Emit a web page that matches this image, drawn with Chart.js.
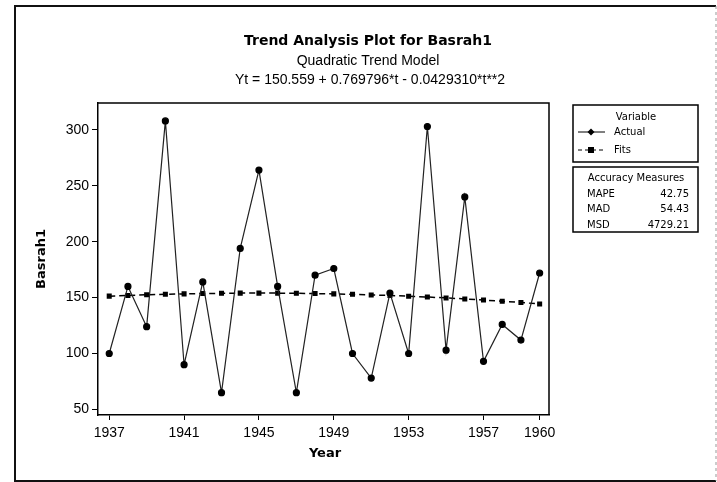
<!DOCTYPE html>
<html>
<head>
<meta charset="utf-8">
<script src="https://cdn.jsdelivr.net/npm/chart.js@4.4.0/dist/chart.umd.min.js"></script>
<style>
  html, body { margin: 0; padding: 0; background: #fff; }
  #wrap { width: 717px; height: 482px; position: relative; }
</style>
</head>
<body>
<div id="wrap"><canvas id="trend-canvas" width="717" height="482"></canvas></div>
<script>
// values
const years = [1937, 1938, 1939, 1940, 1941, 1942, 1943, 1944, 1945, 1946, 1947, 1948,
  1949, 1950, 1951, 1952, 1953, 1954, 1955, 1956, 1957, 1958, 1959, 1960];
const actual = [100, 160, 124, 308, 90, 164, 65, 194, 264, 160, 65, 170,
  176, 100, 78, 154, 100, 303, 103, 240, 93, 126, 112, 172];
const fits = [151.3, 151.9, 152.5, 153.0, 153.3, 153.6, 153.8, 154.0, 154.0, 154.0, 153.8, 153.6,
  153.3, 152.9, 152.4, 151.9, 151.2, 150.5, 149.7, 148.8, 147.8, 146.7, 145.6, 144.3];
const xTicks = [1937, 1941, 1945, 1949, 1953, 1957, 1960];
const yTicks = [50, 100, 150, 200, 250, 300];
const accuracyNames = ["MAPE", "MAD", "MSD"];
const accuracyValues = ["42.75", "54.43", "4729.21"];

const canvas = document.getElementById('trend-canvas');

// titles, frame and the two legend boxes
const decorations = {
  id: 'decorations',
  afterDraw(chart) {
    const ctx = chart.ctx;
    const a = chart.chartArea;
    ctx.save();

    // outer border
    ctx.strokeStyle = '#111';
    ctx.lineWidth = 2;
    ctx.beginPath();
    ctx.moveTo(716, 6); ctx.lineTo(15, 6); ctx.lineTo(15, 481); ctx.lineTo(716, 481);
    ctx.stroke();
    ctx.strokeStyle = '#999';
    ctx.lineWidth = 1;
    ctx.setLineDash([3, 3]);
    ctx.beginPath(); ctx.moveTo(716, 6); ctx.lineTo(716, 481); ctx.stroke();
    ctx.setLineDash([]);

    // top and right of plot frame
    ctx.strokeStyle = '#000';
    ctx.lineWidth = 1.5;
    ctx.beginPath();
    ctx.moveTo(a.left, a.top); ctx.lineTo(a.right, a.top); ctx.lineTo(a.right, a.bottom);
    ctx.stroke();

    // titles
    ctx.fillStyle = '#000';
    ctx.textAlign = 'center';
    ctx.textBaseline = 'middle';
    ctx.font = 'bold 14px "DejaVu Sans"';
    ctx.fillText('Trend Analysis Plot for Basrah1', 368, 41);
    ctx.font = '14px "Liberation Sans"';
    ctx.fillText('Quadratic Trend Model', 368, 61);
    ctx.fillText('Yt = 150.559 + 0.769796*t - 0.0429310*t**2', 370, 80);

    // axis titles
    ctx.font = 'bold 13px "DejaVu Sans"';
    ctx.fillText('Year', 325, 454);
    ctx.save();
    ctx.translate(42, 259);
    ctx.rotate(-Math.PI / 2);
    ctx.fillText('Basrah1', 0, 0);
    ctx.restore();

    // legend box
    ctx.lineWidth = 1.5;
    ctx.strokeRect(573, 105, 125, 57);
    ctx.font = '10px "DejaVu Sans"';
    ctx.fillText('Variable', 636, 117);
    ctx.textAlign = 'left';
    ctx.lineWidth = 1;
    ctx.beginPath(); ctx.moveTo(578, 132); ctx.lineTo(605, 132); ctx.stroke();
    ctx.beginPath();
    ctx.moveTo(591, 128.5); ctx.lineTo(594.5, 132); ctx.lineTo(591, 135.5); ctx.lineTo(587.5, 132);
    ctx.closePath(); ctx.fill();
    ctx.fillText('Actual', 614, 132);
    ctx.setLineDash([4, 3]);
    ctx.beginPath(); ctx.moveTo(578, 150); ctx.lineTo(605, 150); ctx.stroke();
    ctx.setLineDash([]);
    ctx.fillRect(588, 147, 6, 6);
    ctx.fillText('Fits', 614, 150);

    // accuracy box
    ctx.lineWidth = 1.5;
    ctx.strokeRect(573, 167, 125, 65);
    ctx.textAlign = 'center';
    ctx.fillText('Accuracy Measures', 636, 178);
    for (let i = 0; i < accuracyNames.length; i++) {
      const y = 194 + i * 15.5;
      ctx.textAlign = 'left';
      ctx.fillText(accuracyNames[i], 587, y);
      ctx.textAlign = 'right';
      ctx.fillText(accuracyValues[i], 689, y);
    }
    ctx.restore();
  }
};

const tickFont = { family: '"Liberation Sans"', size: 14 };

window.trendChart = new Chart(canvas, {
  type: 'line',
  data: {
    datasets: [{
      label: 'Actual',
      data: years.map((y, i) => ({ x: y, y: actual[i] })),
      borderColor: '#222',
      borderWidth: 1.2,
      pointBackgroundColor: '#000',
      pointBorderColor: '#000',
      pointRadius: 3,
      pointStyle: 'circle',
      tension: 0,
    }, {
      label: 'Fits',
      data: years.map((y, i) => ({ x: y, y: fits[i] })),
      borderColor: '#000',
      borderWidth: 1.5,
      borderDash: [6, 4],
      pointBackgroundColor: '#000',
      pointBorderColor: '#000',
      pointRadius: 2.5,
      pointStyle: 'rect',
      tension: 0,
    }]
  },
  options: {
    responsive: false,
    animation: false,
    layout: { padding: { left: 0, top: 103, right: 168, bottom: 0 } },
    plugins: {
      legend: { display: false },
      tooltip: { enabled: false },
    },
    scales: {
      x: {
        type: 'linear',
        min: 1936.4,
        max: 1960.5,
        afterBuildTicks: scale => { scale.ticks = xTicks.map(v => ({ value: v })); },
        afterFit: scale => { scale.height = 67; },
        ticks: {
          color: '#000',
          font: tickFont,
          padding: 5,
          maxRotation: 0,
          autoSkip: false,
          callback: v => String(v),
        },
        grid: { drawOnChartArea: false, drawTicks: true, tickLength: 5, color: '#000' },
        border: { display: true, color: '#000', width: 1.5 },
      },
      y: {
        min: 45,
        max: 324,
        afterBuildTicks: scale => { scale.ticks = yTicks.map(v => ({ value: v })); },
        afterFit: scale => { scale.width = 98; },
        ticks: {
          color: '#000',
          font: tickFont,
          padding: 3,
          callback: v => String(v),
        },
        grid: { drawOnChartArea: false, drawTicks: true, tickLength: 6, color: '#000' },
        border: { display: true, color: '#000', width: 1.5 },
      }
    }
  },
  plugins: [decorations]
});
</script>
</body>
</html>
